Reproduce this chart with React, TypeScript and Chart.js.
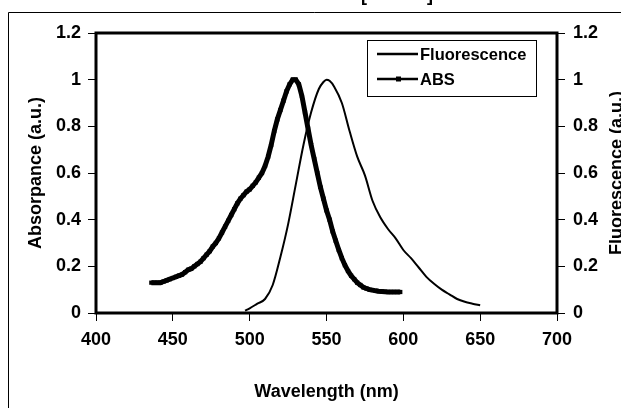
import { useEffect, useRef } from 'react';
import { Chart, registerables } from 'chart.js';

Chart.register(...registerables);

const FLUO_WL = [497, 500, 505, 510, 515, 520, 525, 530, 535, 540, 545, 548, 550, 552, 555, 560, 565, 570, 575, 580, 585, 590, 595, 600, 605, 610, 615, 620, 625, 630, 635, 640, 645, 650];
const FLUO_VAL = [0.01, 0.02, 0.04, 0.06, 0.12, 0.24, 0.38, 0.55, 0.72, 0.86, 0.96, 0.99, 1.0, 0.995, 0.97, 0.9, 0.78, 0.67, 0.59, 0.48, 0.41, 0.36, 0.32, 0.27, 0.235, 0.195, 0.155, 0.125, 0.1, 0.08, 0.06, 0.048, 0.04, 0.033];

const ABS_WL = [436, 438, 440, 442, 444, 446, 448, 450, 452, 454, 456, 458, 460, 462, 464, 466, 468, 470, 472, 474, 476, 478, 480, 482, 484, 486, 488, 490, 492, 494, 496, 498, 500, 502, 504, 506, 508, 510, 512, 514, 516, 518, 520, 522, 524, 526, 528, 530, 532, 534, 536, 538, 540, 542, 544, 546, 548, 550, 552, 554, 556, 558, 560, 562, 564, 566, 568, 570, 572, 574, 576, 578, 580, 582, 584, 586, 588, 590, 592, 594, 596, 598];
const ABS_VAL = [0.13, 0.13, 0.13, 0.13, 0.135, 0.14, 0.145, 0.15, 0.155, 0.16, 0.165, 0.175, 0.185, 0.19, 0.2, 0.21, 0.22, 0.235, 0.25, 0.265, 0.285, 0.3, 0.32, 0.345, 0.37, 0.395, 0.42, 0.445, 0.47, 0.49, 0.505, 0.52, 0.53, 0.545, 0.56, 0.58, 0.6, 0.63, 0.67, 0.72, 0.78, 0.83, 0.87, 0.91, 0.95, 0.98, 1.0, 1.0, 0.98, 0.93, 0.86, 0.79, 0.72, 0.66, 0.6, 0.54, 0.49, 0.44, 0.4, 0.35, 0.31, 0.27, 0.235, 0.205, 0.18, 0.16, 0.145, 0.13, 0.12, 0.11, 0.105, 0.1, 0.098, 0.095, 0.093, 0.092, 0.091, 0.09, 0.09, 0.09, 0.09, 0.09];

const SERIES = ['Fluorescence', 'ABS'];
const X_MIN = 400;
const X_MAX = 700;
const X_STEP = 50;
const Y_MIN = 0;
const Y_MAX = 1.2;
const Y_STEP = 0.2;
const X_TITLE = 'Wavelength (nm)';
const Y_LEFT_TITLE = 'Absorpance (a.u.)';
const Y_RIGHT_TITLE = 'Fluorescence (a.u.)';
const FONT = '"Liberation Sans", Arial, sans-serif';

const fmt = (v: number) => String(Math.round(v * 10) / 10);

const decor = {
  id: 'decor',
  afterDraw(chart: any) {
    const { ctx, chartArea: a } = chart;
    ctx.save();
    ctx.strokeStyle = '#000';
    ctx.fillStyle = '#000';
    // outer frame
    ctx.lineWidth = 1;
    ctx.beginPath();
    ctx.moveTo(8.5, 408);
    ctx.lineTo(8.5, 12.5);
    ctx.lineTo(621, 12.5);
    ctx.stroke();
    // plot frame
    ctx.lineWidth = 3;
    ctx.strokeRect(a.left, a.top, a.right - a.left, a.bottom - a.top);
    // clipped title brackets at the very top
    ctx.font = `bold 18px ${FONT}`;
    ctx.textAlign = 'left';
    ctx.textBaseline = 'alphabetic';
    ctx.fillText('[', 361, 1);
    ctx.fillText(']', 427, 1);
    // right axis title (reads bottom to top)
    ctx.save();
    ctx.textAlign = 'center';
    ctx.textBaseline = 'middle';
    ctx.translate(617, (a.top + a.bottom) / 2);
    ctx.rotate(-Math.PI / 2);
    ctx.fillText(Y_RIGHT_TITLE, 0, 0);
    ctx.restore();
    // legend
    ctx.lineWidth = 1;
    ctx.strokeRect(367.5, 40.5, 169, 56);
    ctx.font = `bold 16.5px ${FONT}`;
    ctx.textAlign = 'left';
    ctx.textBaseline = 'middle';
    const rows = [54, 79];
    SERIES.forEach((name, i) => {
      const y = rows[i];
      ctx.lineWidth = 2.5;
      ctx.beginPath();
      ctx.moveTo(377, y);
      ctx.lineTo(418, y);
      ctx.stroke();
      if (i === 1) ctx.fillRect(396, y - 2.5, 5, 5);
      ctx.fillText(name, 420, y + 1);
    });
    ctx.restore();
  },
};

export default function App() {
  const ref = useRef<HTMLCanvasElement | null>(null);
  useEffect(() => {
    if (!ref.current) return;
    const tickFont = { family: FONT, size: 18, weight: 'bold' as const };
    const grid = {
      drawOnChartArea: false,
      drawTicks: true,
      tickLength: 8,
      color: '#000',
      lineWidth: 1,
    };
    const chart = new Chart(ref.current, {
      type: 'line',
      data: {
        datasets: [
          {
            label: SERIES[0],
            data: FLUO_WL.map((x, i) => ({ x, y: FLUO_VAL[i] })),
            yAxisID: 'y1',
            borderColor: '#000',
            borderWidth: 2,
            pointRadius: 0,
            tension: 0.3,
            cubicInterpolationMode: 'monotone',
          },
          {
            label: SERIES[1],
            data: ABS_WL.map((x, i) => ({ x, y: ABS_VAL[i] })),
            yAxisID: 'y',
            borderColor: '#000',
            backgroundColor: '#000',
            borderWidth: 5,
            pointStyle: 'rect',
            pointRadius: 3,
            pointBorderWidth: 0,
            pointBackgroundColor: '#000',
            tension: 0,
          },
        ],
      },
      options: {
        responsive: false,
        maintainAspectRatio: false,
        animation: false,
        devicePixelRatio: 1,
        events: [],
        layout: { padding: { top: 33, left: 0, right: 0, bottom: 0 } },
        plugins: { legend: { display: false }, tooltip: { enabled: false } },
        scales: {
          x: {
            type: 'linear',
            min: X_MIN,
            max: X_MAX,
            border: { display: false },
            grid,
            ticks: { stepSize: X_STEP, color: '#000', font: tickFont, padding: 8, maxRotation: 0 },
            title: { display: true, text: X_TITLE, color: '#000', font: tickFont, padding: { top: 0, bottom: 5 } },
            afterFit: (s: any) => { s.height = 95; },
          },
          y: {
            type: 'linear',
            position: 'left',
            min: Y_MIN,
            max: Y_MAX,
            border: { display: false },
            grid,
            ticks: { stepSize: Y_STEP, color: '#000', font: tickFont, padding: 7, callback: (v: any) => fmt(Number(v)) },
            title: { display: true, text: Y_LEFT_TITLE, color: '#000', font: tickFont, padding: { top: 25, bottom: 0 } },
            afterFit: (s: any) => { s.width = 96; },
          },
          y1: {
            type: 'linear',
            position: 'right',
            min: Y_MIN,
            max: Y_MAX,
            border: { display: false },
            grid,
            ticks: { stepSize: Y_STEP, color: '#000', font: tickFont, padding: 8, callback: (v: any) => fmt(Number(v)) },
            afterFit: (s: any) => { s.width = 64; },
          },
        },
      },
      plugins: [decor],
    } as any);
    return () => chart.destroy();
  }, []);
  return (
    <div style={{ position: 'absolute', left: 0, top: 0, width: 621, height: 408, background: '#fff' }}>
      <canvas ref={ref} width={621} height={408} style={{ display: 'block', width: 621, height: 408 }} />
    </div>
  );
}
